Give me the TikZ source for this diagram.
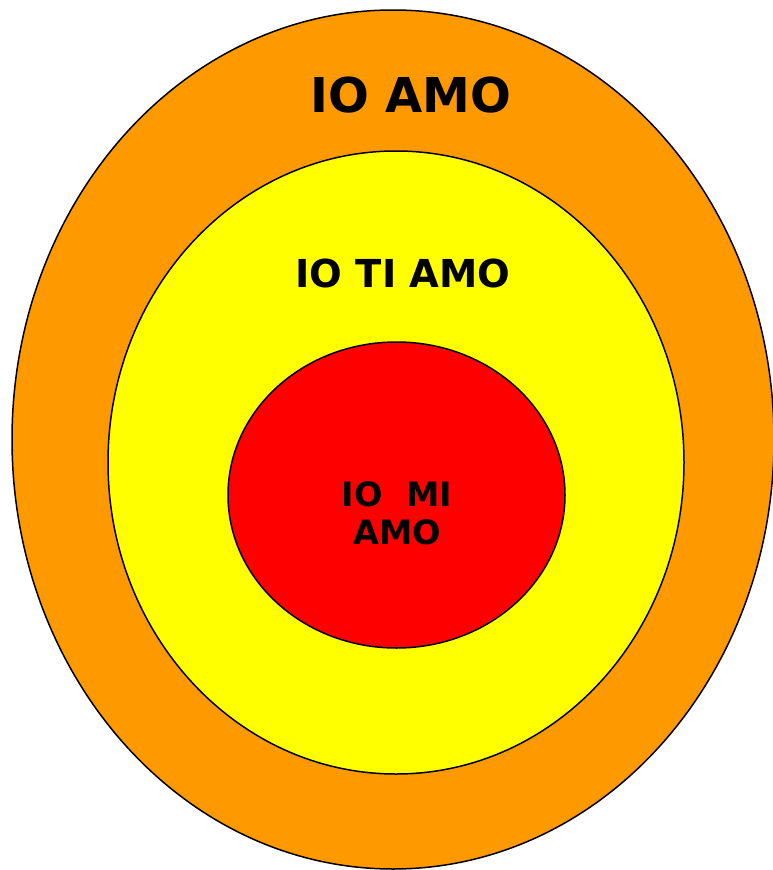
\documentclass[tikz,border=0pt]{standalone}
\usepackage{fontspec}
\setmainfont{DejaVu Sans}
\usetikzlibrary{shapes.geometric}
\definecolor{amoorange}{RGB}{255,153,0}
\definecolor{amoyellow}{RGB}{255,255,0}
\definecolor{amored}{RGB}{255,0,0}

\begin{document}
\begin{tikzpicture}[x=1pt,y=-1pt,
  ring/.style={ellipse,draw=black,line width=1.5pt,inner sep=0pt},
  lbl/.style={font=\bfseries,align=center}]
  \useasboundingbox (0,0) rectangle (772,870);
  \node[ring,fill=amoorange,minimum width=762pt,minimum height=859pt] (io) at (393,439.5) {};
  \node[ring,fill=amoyellow,minimum width=576pt,minimum height=623pt] (ti) at (396,462.5) {};
  \node[ring,fill=amored,minimum width=337pt,minimum height=306pt] (mi) at (396.5,495) {};
  \node[lbl,font=\fontsize{48}{54}\selectfont\bfseries] (ioamo) at (411,95) {IO AMO};
  \node[lbl,font=\fontsize{38.5}{44}\selectfont\bfseries] (tiamo) at (403,273) {IO TI AMO};
  \node[lbl,font=\fontsize{33.5}{38}\selectfont\bfseries] (miamo) at (397,513) {IO\ \ MI\\AMO};
\end{tikzpicture}
\end{document}
